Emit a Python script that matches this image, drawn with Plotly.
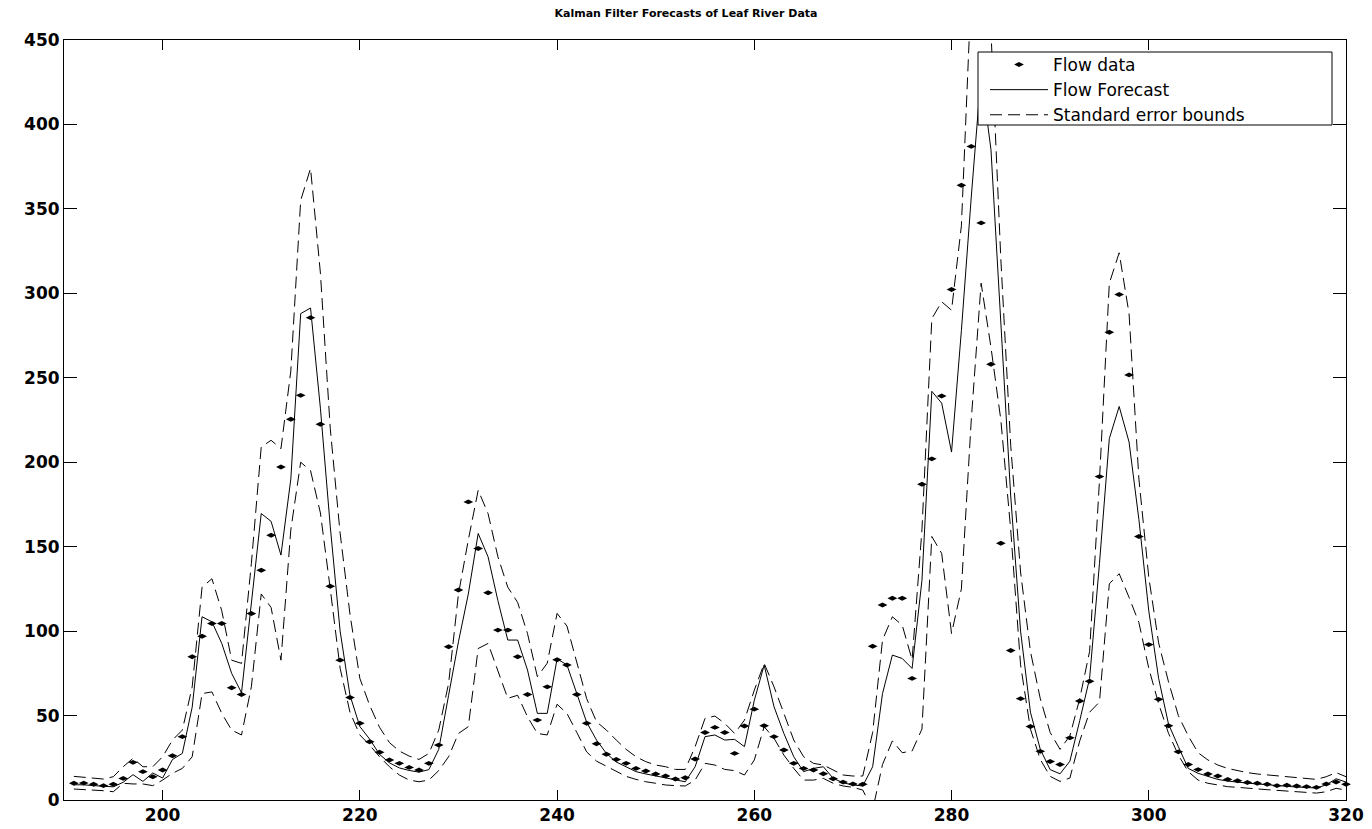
import plotly.graph_objects as go

# ---- data ----
days = list(range(191, 321))

flow_data = [
    9.9, 10.0, 9.3, 8.5, 9.3, 12.8, 22.3, 16.8, 13.8, 17.8,          # 191-200
    26.2, 37.5, 84.8, 97.0, 104.5, 104.5, 66.5, 62.5, 110.4, 136.0,  # 201-210
    156.8, 197.2, 225.4, 239.6, 285.6, 222.5, 126.6, 82.8, 60.7, 45.4,  # 211-220
    34.5, 28.3, 23.7, 21.7, 19.3, 17.8, 21.7, 32.5, 90.7, 124.3,     # 221-230
    176.5, 148.9, 122.7, 100.6, 100.6, 84.8, 62.5, 47.3, 67.0, 83.0,  # 231-240
    79.9, 62.5, 45.4, 33.3, 27.1, 24.0, 21.7, 18.7, 17.2, 15.4,      # 241-250
    14.2, 12.4, 13.2, 24.3, 40.0, 43.0, 40.0, 27.6, 43.8, 53.8,      # 251-260
    44.0, 37.5, 29.6, 21.7, 18.7, 17.8, 15.5, 12.6, 10.6, 9.5,       # 261-270
    9.3, 91.0, 115.5, 119.5, 119.5, 72.0, 187.0, 202.0, 239.2, 302.3,  # 271-280
    364.0, 387.0, 341.7, 258.0, 152.0, 88.5, 60.0, 43.5, 28.8, 22.8,  # 281-290
    21.0, 36.8, 58.6, 70.3, 191.5, 277.0, 299.3, 251.7, 156.0, 92.0,  # 291-300
    59.6, 44.0, 28.5, 21.0, 18.0, 15.4, 14.2, 12.2, 11.4, 10.4,      # 301-310
    9.9, 9.3, 8.5, 8.7, 8.3, 7.9, 7.5, 9.5, 10.7, 9.3,               # 311-320
]

flow_forecast = [
    9.0, 9.0, 8.5, 8.0, 7.8, 10.5, 15.0, 11.0, 16.0, 13.0,
    24.0, 27.6, 55.0, 108.5, 105.5, 92.7, 75.0, 63.5, 116.0, 169.6,
    165.0, 145.0, 190.0, 288.0, 291.3, 232.0, 162.0, 100.0, 62.0, 43.5,
    36.0, 27.0, 22.0, 19.0, 17.5, 16.5, 18.0, 30.0, 62.0, 93.7,
    122.0, 157.8, 144.0, 118.0, 94.7, 94.7, 77.0, 51.3, 51.3, 83.5,
    80.0, 63.0, 46.0, 35.5, 27.6, 22.5, 19.7, 16.8, 15.4, 14.2,
    13.2, 11.8, 10.8, 19.7, 37.5, 38.5, 35.5, 35.9, 31.6, 59.0,
    79.9, 55.2, 39.4, 25.6, 16.8, 18.7, 19.7, 12.8, 10.2, 8.9,
    8.3, 19.7, 63.0, 85.8, 83.8, 77.9, 130.0, 242.0, 235.0, 206.0,
    278.0, 357.0, 430.0, 385.0, 285.0, 180.0, 100.0, 52.0, 30.0, 18.0,
    15.5, 23.0, 47.0, 72.0, 140.0, 214.0, 233.0, 212.0, 166.0, 112.0,
    72.0, 45.0, 31.6, 18.7, 15.8, 13.8, 12.2, 11.2, 10.4, 10.0,
    9.5, 8.9, 8.5, 8.1, 7.7, 7.3, 7.1, 9.0, 12.6, 10.6,
]

upper_bound = [
    14.0, 13.4, 12.8, 12.4, 13.8, 19.7, 24.7, 19.7, 19.7, 25.6,
    35.5, 41.4, 67.0, 126.0, 131.0, 112.0, 82.8, 80.9, 140.0, 209.0,
    213.0, 208.0, 254.0, 355.0, 374.0, 312.0, 220.0, 158.0, 110.0, 72.0,
    56.0, 43.0, 34.0, 29.0, 26.0, 24.0, 27.6, 41.4, 69.0, 122.0,
    154.0, 183.4, 169.6, 144.0, 126.0, 117.0, 98.6, 73.0, 81.0, 110.5,
    103.0, 82.0, 60.0, 46.3, 41.4, 35.5, 30.0, 25.6, 22.7, 20.7,
    19.7, 18.1, 18.1, 31.6, 48.3, 49.7, 45.4, 39.4, 47.3, 65.0,
    80.9, 67.0, 51.3, 35.5, 25.6, 21.7, 20.7, 17.8, 14.8, 14.2,
    14.2, 40.0, 94.7, 108.5, 103.5, 83.0, 160.0, 285.0, 295.0, 290.0,
    340.0, 480.0, 530.0, 455.0, 320.0, 210.0, 135.0, 88.0, 60.0, 40.0,
    30.0, 38.0, 60.0, 88.0, 189.0, 306.0, 324.0, 288.0, 190.0, 132.0,
    93.0, 70.0, 50.0, 38.0, 28.0, 23.7, 20.7, 18.7, 17.4, 16.2,
    15.4, 14.8, 14.2, 13.6, 13.2, 12.8, 12.2, 13.8, 16.2, 13.8,
]

lower_bound = [
    6.5, 6.3, 5.9, 5.5, 4.9, 9.9, 9.5, 9.5, 8.5, 11.8,
    15.8, 18.7, 25.6, 63.0, 64.0, 51.3, 41.4, 38.5, 67.0, 122.0,
    114.0, 82.8, 160.0, 200.0, 195.0, 170.0, 125.0, 78.0, 52.0, 38.5,
    32.5, 25.6, 19.7, 14.8, 11.8, 10.8, 11.8, 17.4, 25.6, 39.4,
    43.4, 89.7, 92.7, 77.0, 60.2, 62.0, 49.3, 39.4, 38.5, 56.7,
    51.3, 40.0, 28.5, 23.0, 20.0, 16.8, 14.0, 12.2, 10.8, 9.9,
    8.9, 8.5, 8.3, 11.8, 21.7, 20.7, 18.1, 17.4, 14.8, 23.7,
    43.4, 36.5, 26.6, 18.7, 11.8, 11.8, 12.8, 9.9, 8.3, 7.5,
    5.9, -6.0, 21.0, 35.0, 28.0, 29.0, 42.0, 156.0, 146.0, 98.6,
    125.0, 225.0, 306.0, 268.0, 225.0, 160.0, 80.0, 42.0, 24.0, 14.0,
    11.0, 13.0, 35.0, 52.0, 58.0, 128.0, 134.0, 120.0, 105.0, 78.0,
    57.0, 39.5, 26.6, 16.8, 11.8, 9.9, 8.7, 7.9, 7.5, 6.9,
    6.5, 6.1, 5.7, 5.3, 4.9, 4.5, 4.1, 4.9, 6.9, 5.9,
]

x_ticks = [200, 220, 240, 260, 280, 300, 320]
y_ticks = [0, 50, 100, 150, 200, 250, 300, 350, 400, 450]

# ---- figure ----
W, H = 1372, 829
ML, MR, MT, MB = 64, 26, 40, 29
pw, ph = W - ML - MR, H - MT - MB


def px_x(p):
    return (p - ML) / pw


def px_y(p):
    return (H - MB - p) / ph


fig = go.Figure()

fig.add_trace(go.Scatter(
    x=days, y=flow_data, mode="markers", name="Flow data",
    marker=dict(symbol="diamond-wide", size=7, color="black"),
    cliponaxis=False,
))
fig.add_trace(go.Scatter(
    x=days, y=flow_forecast, mode="lines", name="Flow Forecast",
    line=dict(color="black", width=1),
))
fig.add_trace(go.Scatter(
    x=days, y=upper_bound, mode="lines", name="Standard error bounds",
    line=dict(color="black", width=1, dash="12px,6px"),
    legendgroup="bounds",
))
fig.add_trace(go.Scatter(
    x=days, y=lower_bound, mode="lines", name="Standard error bounds",
    line=dict(color="black", width=1, dash="12px,6px"),
    legendgroup="bounds", showlegend=False,
))

tick_font = dict(family="DejaVu Sans", size=17, color="black", weight="bold")

fig.update_layout(
    width=W, height=H,
    margin=dict(l=ML, r=MR, t=MT, b=MB, autoexpand=False),
    paper_bgcolor="white", plot_bgcolor="white",
    title=dict(
        text="Kalman Filter Forecasts of Leaf River Data",
        x=0.5, xref="container", xanchor="center",
        y=1 - 13 / H, yref="container", yanchor="middle",
        font=dict(family="DejaVu Sans", size=11, color="black", weight="bold"),
    ),
    xaxis=dict(
        range=[190, 320], tickvals=x_ticks, ticktext=[str(v) for v in x_ticks],
        ticks="inside", ticklen=10, tickwidth=1, tickcolor="black",
        showline=True, linecolor="black", linewidth=1, mirror="ticks",
        showgrid=False, zeroline=False, tickfont=tick_font,
    ),
    yaxis=dict(
        range=[0, 450], tickvals=y_ticks, ticktext=[str(v) for v in y_ticks],
        ticks="inside", ticklen=13, tickwidth=1, tickcolor="black",
        showline=True, linecolor="black", linewidth=1, mirror="ticks",
        showgrid=False, zeroline=False, tickfont=tick_font,
    ),
    # white legend box (drawn above the data, under the legend entries)
    shapes=[dict(
        type="rect", xref="paper", yref="paper", layer="above",
        x0=px_x(978), x1=px_x(1332), y0=px_y(125), y1=px_y(52),
        fillcolor="white", line=dict(color="black", width=1),
    )],
    legend=dict(
        x=px_x(985), y=px_y(47), xanchor="left", yanchor="top",
        bgcolor="rgba(0,0,0,0)", borderwidth=0,
        font=dict(family="DejaVu Sans", size=17, color="black"),
        itemwidth=58, tracegroupgap=0,
    ),
    showlegend=True,
)

fig.write_html("out.html")
